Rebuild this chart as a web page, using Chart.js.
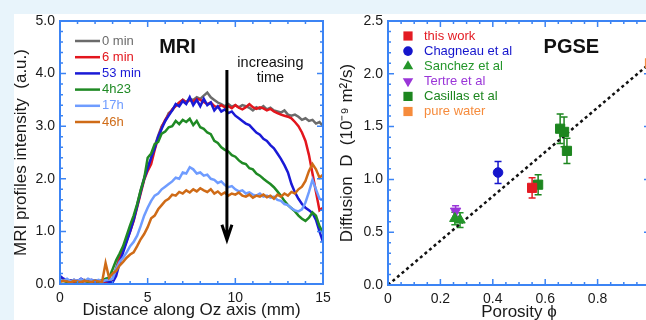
<!DOCTYPE html>
<html>
<head>
<meta charset="utf-8">
<script src="https://cdn.jsdelivr.net/npm/chart.js"></script>
<style>
  html, body { margin: 0; padding: 0; width: 646px; height: 320px; overflow: hidden; background: #e8f4fb; }
  #sheet { position: absolute; left: 14px; top: 14px; width: 632px; height: 306px; background: #fff; }
  canvas { position: absolute; top: 0; }
  #mri { left: 0; }
  #pgse { left: 336px; }
</style>
</head>
<body>
<div id="sheet"></div>
<canvas id="mri" width="340" height="320"></canvas>
<canvas id="pgse" width="324" height="320"></canvas>
<script>
// MRI profiles along the sample (mm) for each elapsed time
const distance = [0,0.2,0.4,0.6,0.8,1,1.2,1.4,1.6,1.8,2,2.2,2.4,2.6,2.8,3,3.2,3.4,3.6,3.8,
  4,4.2,4.4,4.6,4.8,5,5.2,5.4,5.6,5.8,6,6.2,6.4,6.6,6.8,7,7.2,7.4,7.6,7.8,
  8,8.2,8.4,8.6,8.8,9,9.2,9.4,9.6,9.8,10,10.2,10.4,10.6,10.8,11,11.2,11.4,11.6,11.8,
  12,12.2,12.4,12.6,12.8,13,13.2,13.4,13.6,13.8,14,14.2,14.4,14.6,14.8,15];

const t0min = [0.08,0.06,0.05,0.07,0.04,0.06,0.05,0.08,0.05,0.04,0.06,0.05,0.07,0.05,0.06,
  0.10,0.30,0.52,0.66,0.85,1.02,1.25,1.50,1.78,2.02,
  2.22,2.38,2.62,2.82,3.00,3.10,3.25,3.30,3.40,3.44,
  3.50,3.46,3.52,3.50,3.55,3.52,3.58,3.64,3.55,3.50,
  3.45,3.42,3.38,3.42,3.37,3.40,3.36,3.40,3.38,3.35,
  3.30,3.36,3.33,3.38,3.32,3.35,3.30,3.28,3.26,3.30,
  3.22,3.20,3.22,3.18,3.12,3.15,3.10,3.12,3.05,3.08,3.00];

const t6min = [0.10,0.08,0.06,0.07,0.05,0.06,0.04,0.05,0.07,0.05,0.04,0.06,0.05,0.04,0.03,
  0.04,0.25,0.48,0.64,0.82,1.00,1.20,1.46,1.72,1.98,
  2.15,2.28,2.55,2.78,2.98,3.12,3.22,3.32,3.38,3.45,
  3.50,3.45,3.50,3.47,3.52,3.50,3.46,3.42,3.45,3.38,
  3.36,3.40,3.36,3.38,3.34,3.40,3.35,3.32,3.36,3.42,
  3.36,3.33,3.36,3.34,3.30,3.33,3.28,3.25,3.22,3.20,
  3.18,3.15,3.08,3.00,2.88,2.72,2.45,2.10,1.75,1.40,1.45];

const t53min = [0.15,0.10,0.07,0.06,0.08,0.05,0.10,0.06,0.05,0.08,0.06,0.07,0.05,0.06,0.04,0.03,
  0.15,0.40,0.60,0.80,1.00,1.22,1.48,1.75,2.00,2.20,
  2.40,2.58,2.80,2.95,3.10,3.20,3.30,3.42,3.38,3.48,
  3.42,3.55,3.40,3.50,3.38,3.52,3.40,3.45,3.30,3.38,
  3.28,3.32,3.25,3.28,3.20,3.15,3.10,3.05,3.02,2.95,
  2.88,2.84,2.76,2.72,2.64,2.58,2.48,2.38,2.26,2.12,
  1.90,1.74,1.62,1.52,1.45,1.40,1.35,1.22,1.00,0.80];

const t4h23 = [0.05,0.06,0.04,0.05,0.07,0.04,0.05,0.06,0.04,0.05,0.06,0.05,0.07,0.10,0.12,
  0.28,0.45,0.58,0.72,0.92,1.12,1.30,1.52,1.78,2.00,
  2.40,2.48,2.66,2.70,2.86,2.90,2.98,3.00,3.10,3.04,
  3.12,3.08,3.14,3.02,3.10,2.98,2.95,2.88,2.85,2.72,
  2.68,2.60,2.55,2.52,2.45,2.42,2.35,2.30,2.28,2.20,
  2.18,2.10,2.06,2.00,1.95,1.90,1.84,1.76,1.68,1.58,
  1.50,1.44,1.38,1.30,1.24,1.20,1.26,1.36,1.30,1.10,0.98];

const t17h = [0.08,0.06,0.10,0.05,0.08,0.06,0.09,0.05,0.10,0.07,0.06,0.08,0.05,0.07,0.08,0.10,
  0.28,0.42,0.50,0.60,0.72,0.80,0.92,1.10,1.30,1.45,
  1.58,1.68,1.72,1.80,1.85,1.90,1.95,2.02,2.00,2.12,
  2.10,2.22,2.18,2.10,2.12,2.06,2.08,2.00,1.98,1.92,
  1.95,1.88,1.84,1.86,1.80,1.76,1.78,1.72,1.74,1.70,
  1.68,1.72,1.66,1.68,1.64,1.66,1.60,1.58,1.52,1.50,
  1.44,1.40,1.38,1.42,1.55,1.75,1.98,1.80,1.62,1.60];

const t46h = [0.04,0.06,0.05,0.03,0.06,0.05,0.04,0.06,0.05,0.04,0.06,0.05,0.04,
  0.40,0.12,0.20,0.25,0.35,0.42,0.50,0.56,0.60,0.72,
  0.85,0.95,1.08,1.25,1.30,1.42,1.50,1.58,1.62,1.70,
  1.68,1.75,1.72,1.78,1.74,1.80,1.76,1.82,1.78,1.75,
  1.80,1.72,1.76,1.70,1.74,1.68,1.72,1.70,1.74,1.68,
  1.66,1.70,1.64,1.68,1.66,1.70,1.65,1.68,1.62,1.70,
  1.66,1.72,1.68,1.75,1.72,1.80,1.85,1.96,2.15,2.28,2.18,2.02,2.08];

const profileLabels = ['0 min', '6 min', '53 min', '4h23', '17h', '46h'];
const profileColors = ['#6b6b6b', '#e3161d', '#1a1ad6', '#1f8a24', '#6f9cff', '#cf6b17'];
const profiles = [t0min, t6min, t53min, t4h23, t17h, t46h];

// PGSE diffusion coefficient (1e-9 m2/s) against porosity
const workPhi = [0.55], workD = [0.92], workErr = [0.095];
const chagneauPhi = [0.42], chagneauD = [1.065], chagneauErr = [0.105];
const sanchezPhi = [0.255, 0.275], sanchezD = [0.63, 0.615], sanchezErr = [0.06, 0.07];
const tertrePhi = [0.258], tertreD = [0.70], tertreErr = [0.05];
const casillasPhi = [0.573, 0.657, 0.672, 0.683], casillasD = [0.95, 1.48, 1.45, 1.27], casillasErr = [0.095, 0.14, 0.14, 0.12];
const waterPhi = [1.0], waterD = [2.1], waterErr = [0];
const fitPhi = [0, 1.0], fitD = [0, 2.1];

const FONT = "'Liberation Sans', Arial, Helvetica, sans-serif";
Chart.defaults.font.family = FONT;
Chart.defaults.font.size = 14;
Chart.defaults.color = '#1a1a1a';

// box frame with inward major/minor ticks on all four sides
const boxFrame = {
  id: 'boxFrame',
  afterDatasetsDraw(chart, args, o) {
    const { ctx, chartArea: a, scales: { x, y } } = chart;
    const marks = (scale, minor, draw) => {
      const major = scale.options.ticks.stepSize;
      const n = Math.round((scale.max - scale.min) / minor);
      for (let i = 0; i <= n; i++) {
        const v = scale.min + i * minor;
        const r = v / major;
        draw(scale.getPixelForValue(v), Math.abs(r - Math.round(r)) < 1e-6 ? o.majorLen : o.minorLen);
      }
    };
    ctx.save();
    ctx.strokeStyle = o.color;
    ctx.lineWidth = 1.5;
    ctx.beginPath();
    marks(x, o.xMinor, (p, len) => {
      ctx.moveTo(p, a.bottom); ctx.lineTo(p, a.bottom - len);
      ctx.moveTo(p, a.top); ctx.lineTo(p, a.top + len);
    });
    marks(y, o.yMinor, (p, len) => {
      ctx.moveTo(a.left, p); ctx.lineTo(a.left + len, p);
      ctx.moveTo(a.right, p); ctx.lineTo(a.right - len, p);
    });
    ctx.stroke();
    ctx.lineWidth = 2;
    ctx.strokeRect(a.left, a.top, a.right - a.left, a.bottom - a.top);
    ctx.restore();
  }
};

function drawMarker(ctx, style, rot, x, y, r, color) {
  ctx.fillStyle = color;
  ctx.beginPath();
  if (style === 'circle') {
    ctx.arc(x, y, r, 0, Math.PI * 2);
  } else if (style === 'triangle') {
    const s = rot ? -1 : 1;
    ctx.moveTo(x, y - s * r);
    ctx.lineTo(x + r * 0.87, y + s * r * 0.5);
    ctx.lineTo(x - r * 0.87, y + s * r * 0.5);
    ctx.closePath();
  } else {
    const h = r * Math.SQRT1_2;
    ctx.rect(x - h, y - h, 2 * h, 2 * h);
  }
  ctx.fill();
}

// legend drawn inside the plot area
const insetLegend = {
  id: 'insetLegend',
  afterDatasetsDraw(chart, args, o) {
    const { ctx, chartArea: a } = chart;
    ctx.save();
    ctx.font = o.font;
    ctx.textBaseline = 'middle';
    let row = 0;
    chart.data.datasets.forEach(ds => {
      if (!ds.label) return;
      const y = a.top + o.top + row * o.rowGap;
      if (o.sample === 'line') {
        ctx.strokeStyle = ds.borderColor;
        ctx.lineWidth = ds.borderWidth;
        ctx.beginPath();
        ctx.moveTo(a.left + o.left, y);
        ctx.lineTo(a.left + o.left + o.sampleWidth, y);
        ctx.stroke();
      } else {
        drawMarker(ctx, ds.pointStyle, ds.pointRotation, a.left + o.left, y, ds.pointRadius, ds.borderColor);
      }
      ctx.fillStyle = ds.borderColor;
      ctx.fillText(ds.label, a.left + o.textLeft, y);
      row++;
    });
    ctx.restore();
  }
};

// text notes and the "increasing time" arrow, placed in data units
const notes = {
  id: 'notes',
  afterDatasetsDraw(chart, args, o) {
    const { ctx, scales: { x, y } } = chart;
    ctx.save();
    ctx.textAlign = 'center';
    ctx.textBaseline = 'middle';
    (o.labels || []).forEach(t => {
      ctx.font = t.font;
      ctx.fillStyle = t.color || '#111';
      ctx.fillText(t.text, x.getPixelForValue(t.x), y.getPixelForValue(t.y));
    });
    if (o.arrow) {
      const px = x.getPixelForValue(o.arrow.x);
      const y0 = y.getPixelForValue(o.arrow.from);
      const y1 = y.getPixelForValue(o.arrow.to);
      ctx.strokeStyle = '#000';
      ctx.lineWidth = 3;
      ctx.beginPath();
      ctx.moveTo(px, y0); ctx.lineTo(px, y1);
      ctx.moveTo(px - 5, y1 - 15); ctx.lineTo(px, y1); ctx.lineTo(px + 5, y1 - 15);
      ctx.stroke();
    }
    ctx.restore();
  }
};

// error bars for the scatter datasets
const errorBars = {
  id: 'errorBars',
  beforeDatasetsDraw(chart, args, o) {
    const { ctx, scales: { x, y } } = chart;
    ctx.save();
    ctx.lineWidth = o.width;
    chart.data.datasets.forEach(ds => {
      if (!ds.errors) return;
      ctx.strokeStyle = ds.borderColor;
      ds.data.forEach((p, j) => {
        const e = ds.errors[j];
        if (!e) return;
        const px = x.getPixelForValue(p.x);
        const top = y.getPixelForValue(p.y + e);
        const bot = y.getPixelForValue(p.y - e);
        ctx.beginPath();
        ctx.moveTo(px, top); ctx.lineTo(px, bot);
        ctx.moveTo(px - o.cap, top); ctx.lineTo(px + o.cap, top);
        ctx.moveTo(px - o.cap, bot); ctx.lineTo(px + o.cap, bot);
        ctx.stroke();
      });
    });
    ctx.restore();
  }
};

const AXIS_BLUE = '#3c84f4';
const plainAxis = { grid: { display: false, drawTicks: false }, border: { display: false } };

new Chart(document.getElementById('mri'), {
  type: 'line',
  data: {
    datasets: profiles.map((vals, i) => ({
      label: profileLabels[i],
      data: distance.map((d, k) => ({ x: d, y: vals[k] })),
      borderColor: profileColors[i],
      borderWidth: 2.5,
      pointRadius: 0,
      tension: 0,
      order: profiles.length - i
    }))
  },
  options: {
    responsive: false,
    devicePixelRatio: 1,
    animation: false,
    events: [],
    layout: { padding: { top: 21, right: 17, left: 0, bottom: 0 } },
    scales: {
      x: {
        ...plainAxis, type: 'linear', min: 0, max: 15,
        ticks: { stepSize: 5, padding: 6, maxRotation: 0 },
        title: { display: true, text: 'Distance along Oz axis (mm)', font: { size: 17 }, padding: { top: 0, bottom: -1 } },
        afterFit: s => { s.height = 36; }
      },
      y: {
        ...plainAxis, min: 0, max: 5,
        ticks: { stepSize: 1, padding: 5, callback: v => v.toFixed(1) },
        title: { display: true, text: 'MRI profiles intensity  (a.u.)', font: { size: 17 }, padding: { top: 11, bottom: 0 } },
        afterFit: s => { s.width = 60; }
      }
    },
    plugins: {
      legend: { display: false },
      tooltip: { enabled: false },
      boxFrame: { color: AXIS_BLUE, xMinor: 1, yMinor: 0.2, majorLen: 6, minorLen: 3 },
      insetLegend: { sample: 'line', font: '13px ' + FONT, left: 15, sampleWidth: 25, textLeft: 42, top: 20, rowGap: 16.2 },
      notes: {
        labels: [
          { text: 'MRI', x: 6.7, y: 4.5, font: 'bold 20px ' + FONT },
          { text: 'increasing', x: 12.0, y: 4.2, font: '14.5px ' + FONT },
          { text: 'time', x: 12.0, y: 3.92, font: '14.5px ' + FONT }
        ],
        arrow: { x: 9.52, from: 4.07, to: 0.84 }
      }
    }
  },
  plugins: [notes, insetLegend, boxFrame]
});

const pts = (xs, ys) => xs.map((v, i) => ({ x: v, y: ys[i] }));
const study = (label, xs, ys, errs, color, style, radius, rot) => ({
  label, data: pts(xs, ys), errors: errs,
  borderColor: color, backgroundColor: color,
  pointStyle: style, pointRadius: radius, pointRotation: rot || 0, pointBorderWidth: 1
});

new Chart(document.getElementById('pgse'), {
  type: 'scatter',
  data: {
    datasets: [
      study('this work', workPhi, workD, workErr, '#e31b23', 'rect', 6.5),
      study('Chagneau et al', chagneauPhi, chagneauD, chagneauErr, '#1515cc', 'circle', 4.8),
      study('Sanchez et al', sanchezPhi, sanchezD, sanchezErr, '#24962a', 'triangle', 6),
      study('Tertre et al', tertrePhi, tertreD, tertreErr, '#9a35d8', 'triangle', 6, 180),
      study('Casillas et al', casillasPhi, casillasD, casillasErr, '#1d861f', 'rect', 6.5),
      study('pure water', waterPhi, waterD, waterErr, '#f68b3c', 'rect', 6.5),
      {
        type: 'line', data: pts(fitPhi, fitD), showLine: true,
        borderColor: '#111', borderWidth: 2.5, borderDash: [3, 3], pointRadius: 0
      }
    ]
  },
  options: {
    responsive: false,
    devicePixelRatio: 1,
    animation: false,
    events: [],
    layout: { padding: { top: 21, right: 10, left: 0, bottom: 0 } },
    scales: {
      x: {
        ...plainAxis, type: 'linear', min: 0, max: 1,
        ticks: { stepSize: 0.2, padding: 6, maxRotation: 0, callback: v => v === 0 ? '0' : (v >= 0.99 ? '' : v.toFixed(1)) },
        title: { display: true, text: 'Porosity ϕ', font: { size: 17 }, padding: { top: 0, bottom: -3 } },
        afterFit: s => { s.height = 35; }
      },
      y: {
        ...plainAxis, min: 0, max: 2.5,
        ticks: { stepSize: 0.5, padding: 5, callback: v => v.toFixed(1) },
        title: { display: true, text: 'Diffusion  D  (10⁻⁹ m²/s)', font: { size: 17 }, padding: { top: 1, bottom: 0 } },
        afterFit: s => { s.width = 52; }
      }
    },
    plugins: {
      legend: { display: false },
      tooltip: { enabled: false },
      errorBars: { width: 1.5, cap: 3.5 },
      boxFrame: { color: AXIS_BLUE, xMinor: 0.05, yMinor: 0.1, majorLen: 6, minorLen: 3 },
      insetLegend: { sample: 'point', font: '13px ' + FONT, left: 20, textLeft: 36, top: 15, rowGap: 15.1 },
      notes: {
        labels: [{ text: 'PGSE', x: 0.70, y: 2.25, font: 'bold 20px ' + FONT }]
      }
    }
  },
  plugins: [errorBars, notes, insetLegend, boxFrame]
});
</script>
</body>
</html>
